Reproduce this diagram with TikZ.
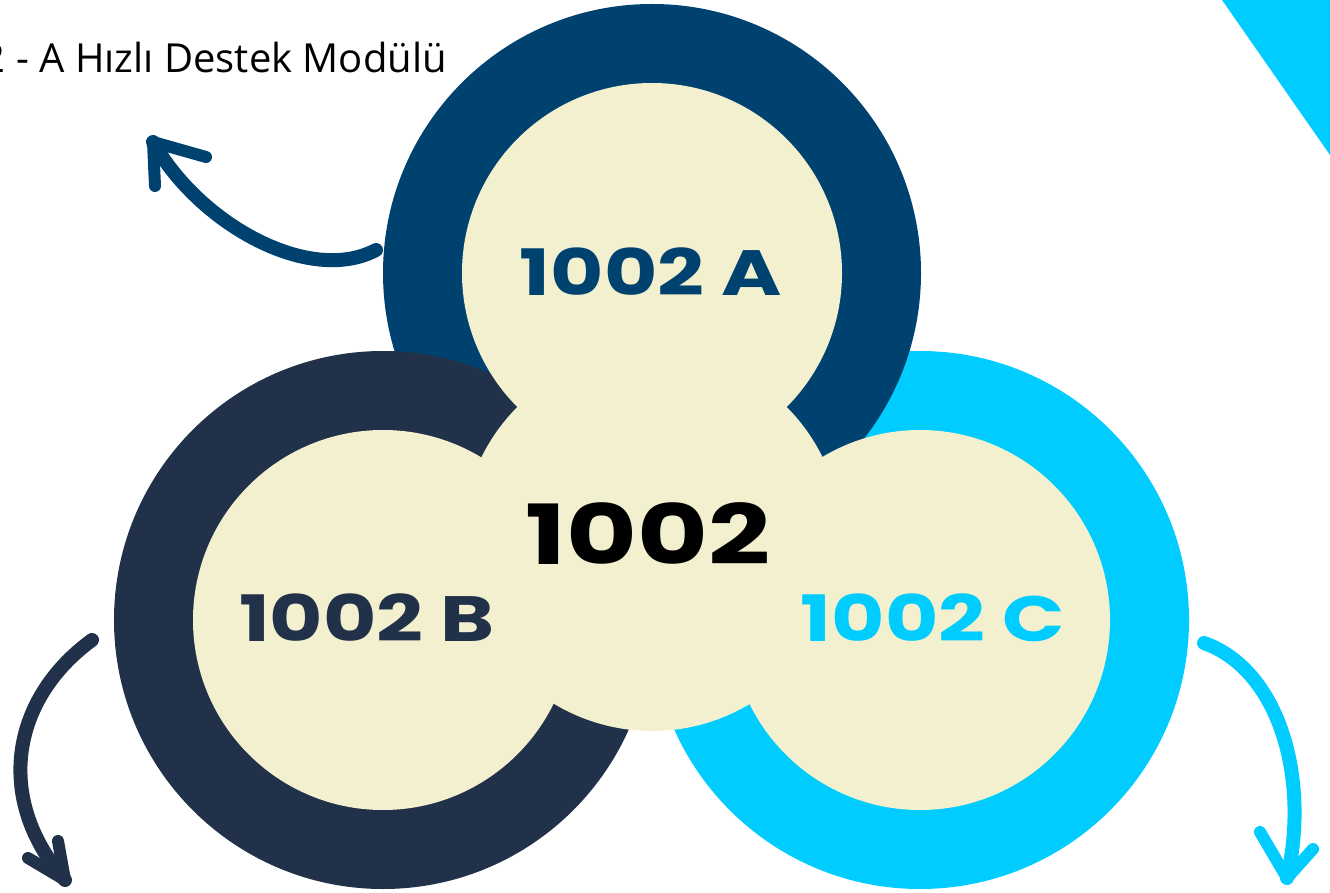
\documentclass[tikz,border=0pt]{standalone}
\usepackage{fontspec}
\setmainfont{Open Sans}
\newfontfamily\numfont{Poppins}
\usepackage{tikz}
\definecolor{blueA}{HTML}{00426F}
\definecolor{navyB}{HTML}{21314A}
\definecolor{cyanC}{HTML}{00CCFF}
\definecolor{cream}{HTML}{F2F0CE}

\begin{document}
\begin{tikzpicture}[
		x=1pt, y=-1pt,
		ring/.style={circle, inner sep=0pt, outer sep=0pt, minimum size=538pt},
		disk/.style={circle, fill=cream, inner sep=0pt, outer sep=0pt, minimum size=380pt},
		lab/.style={font=\numfont\bfseries\fontsize{64}{64}\selectfont, xscale=1.28, inner sep=0pt},
		swoosh/.style={line width=14pt, line cap=round, line join=round}
	]
	\useasboundingbox (0,0) rectangle (1330,893);

	\fill[cyanC] (1222,0) -- (1330,0) -- (1330,155) -- cycle;

	\node[ring, fill=cyanC] (ringC) at (920,620) {};
	\node[ring, fill=blueA] (ringA) at (652,273) {};
	\node[ring, fill=navyB] (ringB) at (383,620) {};

	\node[disk] (diskA) at (652,273) {};
	\node[disk] (diskB) at (383,620) {};
	\node[disk] (diskC) at (920,620) {};
	\node[disk] (diskM) at (652,541) {};

	\node[lab, text=blueA] (labA) at (651,272) {1002 A};
	\node[lab, text=navyB] (labB) at (367,618) {1002 B};
	\node[lab, text=cyanC] (labC) at (933,618) {1002 C};
	\node[lab, text=black, xscale=1.31/1.28, font=\numfont\bfseries\fontsize{83}{83}\selectfont] (labM) at (648,534) {1002};

	\node[anchor=base east, font=\fontsize{40}{40}\selectfont, inner sep=0pt] (title) at (447,73) {2 - A Hızlı Destek Modülü};

	\coordinate (tailA) at (376,250);
	\coordinate (tipA) at (153,142);
	\draw[swoosh, blueA] (tailA) .. controls (310,285) and (200,225) .. (tipA);
	\draw[swoosh, blueA, line width=12pt] (155,186) -- (tipA) -- (206,157);

	\coordinate (tailB) at (92,640);
	\coordinate (tipB) at (65,880);
	\draw[swoosh, navyB] (tailB) .. controls (10,700) and (-5,800) .. (tipB);
	\draw[swoosh, navyB, line width=12pt] (58,841) -- (tipB) -- (28,858);

	\coordinate (tailC) at (1204,643);
	\coordinate (tipC) at (1287,878);
	\draw[swoosh, cyanC] (tailC) .. controls (1280,670) and (1310,780) .. (tipC);
	\draw[swoosh, cyanC, line width=12pt] (1260,832) -- (tipC) -- (1313,849);
\end{tikzpicture}
\end{document}
